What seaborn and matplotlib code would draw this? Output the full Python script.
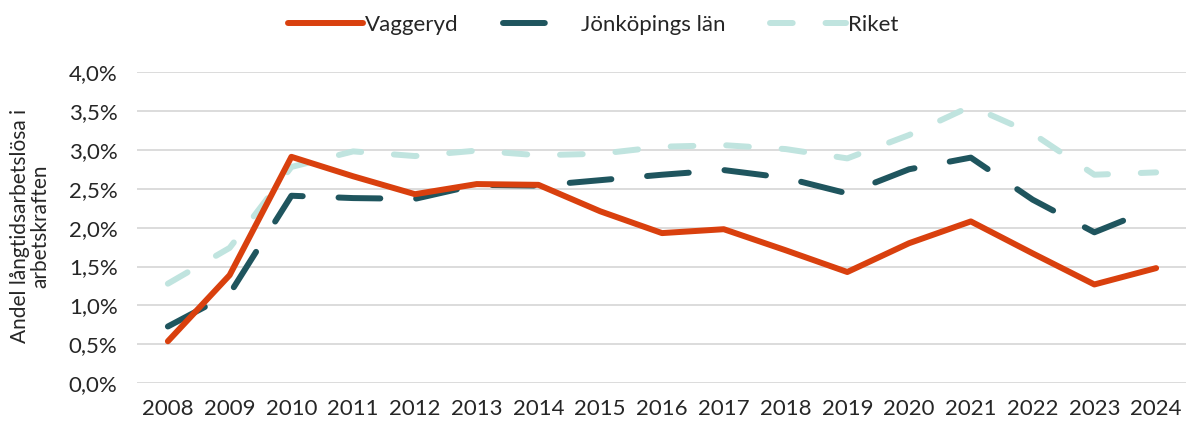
import matplotlib
matplotlib.use("Agg")
import matplotlib.pyplot as plt
import seaborn as sns
import pandas as pd
from matplotlib.ticker import FuncFormatter, MultipleLocator

years = list(range(2008, 2025))
vaggeryd = [0.54, 1.39, 2.91, 2.66, 2.43, 2.56, 2.55, 2.21, 1.93, 1.98, 1.71, 1.43, 1.80, 2.08, 1.67, 1.27, 1.48]
jonkoping = [0.73, 1.15, 2.41, 2.38, 2.37, 2.55, 2.54, 2.61, 2.68, 2.74, 2.64, 2.44, 2.75, 2.90, 2.36, 1.94, 2.26]
riket = [1.28, 1.74, 2.78, 2.98, 2.92, 2.99, 2.93, 2.95, 3.04, 3.06, 3.01, 2.89, 3.19, 3.56, 3.21, 2.68, 2.71]
series_names = ["Vaggeryd", "Jönköpings län", "Riket"]
ylabel = "Andel långtidsarbetslösa i\narbetskraften"

colors = ["#D9400E", "#1F555E", "#C0E4DF"]
styles = ["-", (0, (7, 6)), (0, (3.8, 5.5))]

sns.set_theme(style="white")
plt.rcParams["font.family"] = ["Lato", "DejaVu Sans"]
text_color = "#262626"

fig = plt.figure(figsize=(11.86, 4.23), dpi=100)
ax = fig.add_axes([137 / 1186, 1 - 383.3 / 423, 1050 / 1186, (383.3 - 72) / 423])

lw = 4.3
for name, vals, c, ls in zip(series_names, [vaggeryd, jonkoping, riket], colors, styles):
    df = pd.DataFrame({"year": years, "value": vals})
    sns.lineplot(data=df, x="year", y="value", ax=ax, color=c, linewidth=lw,
                 label=name, legend=False)
    line = ax.get_lines()[-1]
    line.set_linestyle(ls)
    line.set_solid_capstyle("round")
    line.set_dash_capstyle("round")
    line.set_solid_joinstyle("round")
    line.set_dash_joinstyle("round")

ax.get_lines()[0].set_zorder(5)
ax.get_lines()[1].set_zorder(4)
ax.get_lines()[2].set_zorder(3)

ax.set_xlim(2007.5, 2024.5)
ax.set_ylim(0, 4.0)
ax.yaxis.set_major_locator(MultipleLocator(0.5))
ax.set_xticks(years)
ax.yaxis.set_major_formatter(FuncFormatter(lambda v, p: f"{v:.1f}".replace(".", ",") + "%"))
ax.grid(axis="y", color="#D9D9D9", linewidth=1.3)
ax.grid(axis="x", visible=False)
for s in ax.spines.values():
    s.set_visible(False)
ax.tick_params(axis="both", length=0, labelsize=16, colors=text_color)
ax.tick_params(axis="y", pad=14)
ax.tick_params(axis="x", pad=11)
ax.set_xlabel("")
ax.set_ylabel("")

fig.text(30 / 1186, 1 - 226 / 423, ylabel, rotation=90, ha="center", va="center",
         multialignment="center", fontsize=15, color=text_color, linespacing=1.0)

handles = ax.get_lines()[:3]
leg = fig.legend(handles, series_names, loc="center", bbox_to_anchor=(0.5, 1 - 25 / 423),
                 ncol=3, frameon=False, fontsize=16, handlelength=3.4, handletextpad=0.1,
                 columnspacing=2.0)
for t in leg.get_texts():
    t.set_color(text_color)

fig.savefig("out.png", dpi=100)
